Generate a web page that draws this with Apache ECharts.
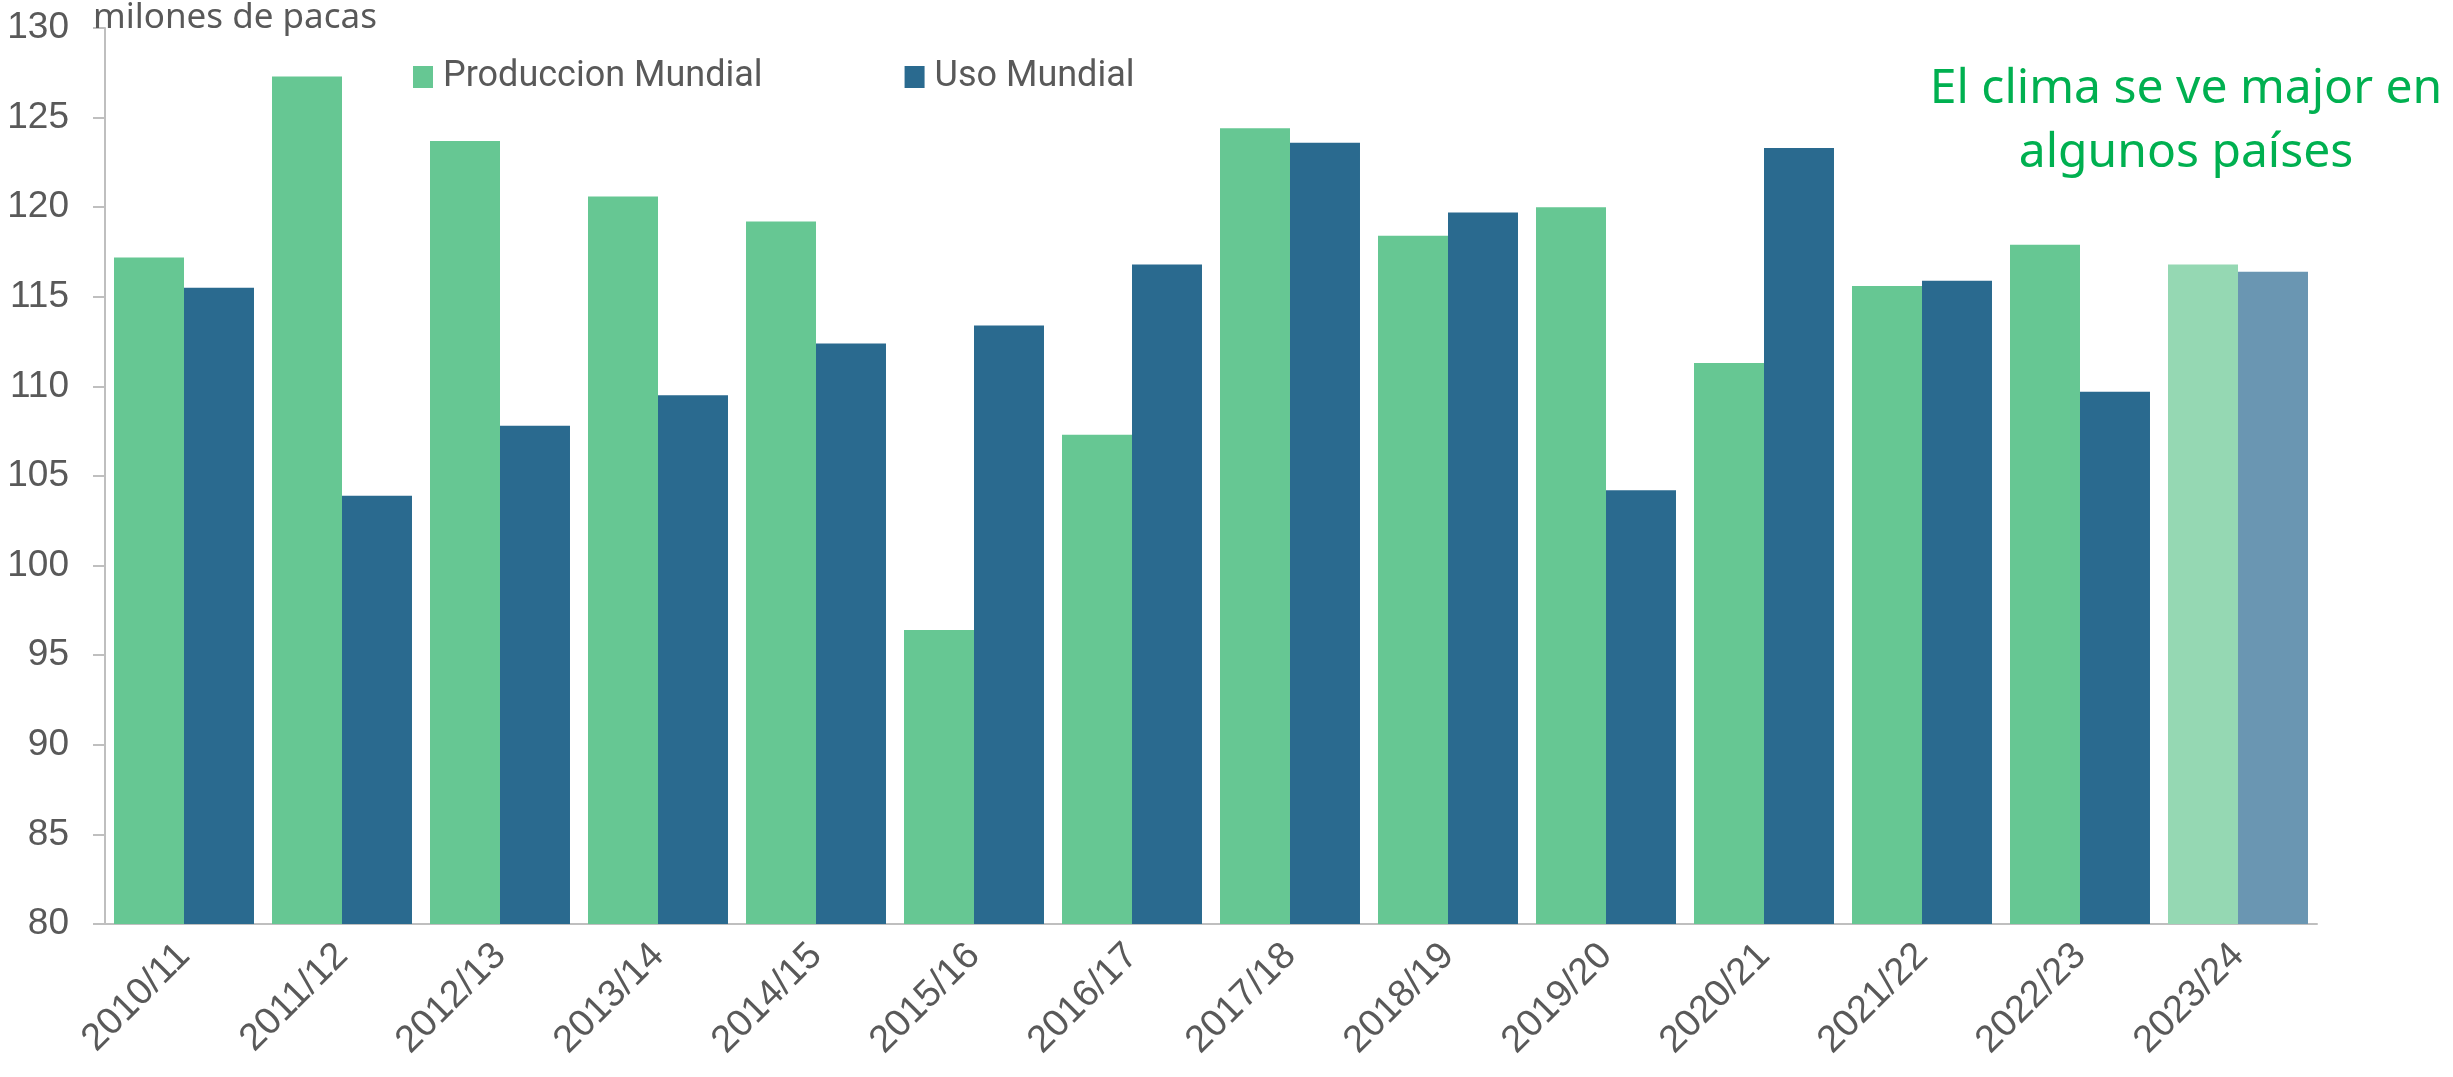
<!DOCTYPE html>
<html>
<head>
<meta charset="utf-8">
<title>Produccion y uso mundial</title>
<script src="https://cdn.jsdelivr.net/npm/echarts@6/dist/echarts.min.js"></script>
<style>
  html, body { margin: 0; padding: 0; background: #ffffff; }
  #chart { width: 2453px; height: 1077px; }
</style>
</head>
<body>
<div id="chart"></div>
<script>
// categorias (temporadas)
var categories = ["2010/11", "2011/12", "2012/13", "2013/14", "2014/15", "2015/16", "2016/17",
  "2017/18", "2018/19", "2019/20", "2020/21", "2021/22", "2022/23", "2023/24"];
// millones de pacas
var produccion = [117.2, 127.3, 123.7, 120.6, 119.2, 96.4, 107.3, 124.4, 118.4, 120.0, 111.3, 115.6, 117.9, 116.8];
var uso = [115.5, 103.9, 107.8, 109.5, 112.4, 113.4, 116.8, 123.6, 119.7, 104.2, 123.3, 115.9, 109.7, 116.4];

var verde = "#66c793";
var azul = "#2a6a8f";
var verdeClaro = "#95d8b3"; // ultima temporada (estimado)
var azulClaro = "#6a96b2";

var textColor = "#595959";
var axisColor = "#bfbfbf";

// la ultima barra va mas clara
function conUltimoClaro(values, color) {
  return values.map(function (v, i) {
    if (i === values.length - 1) {
      return { value: v, itemStyle: { color: color } };
    }
    return v;
  });
}

var chart = echarts.init(document.getElementById("chart"));
var option = {
  animation: false,
  title: {
    text: "milones de pacas",
    left: 88,
    top: -4,
    textStyle: {
      color: textColor,
      fontSize: 35,
      fontWeight: "normal",
      fontFamily: "Noto Sans"
    }
  },
  legend: {
    left: 408,
    top: 54,
    itemWidth: 20,
    itemHeight: 22,
    itemGap: 142,
    icon: "rect",
    textStyle: {
      color: textColor,
      fontSize: 36,
      fontFamily: "Roboto",
      padding: [0, 0, 0, 5]
    },
    data: ["Produccion Mundial", "Uso Mundial"]
  },
  graphic: [{
    type: "text",
    x: 2186,
    y: 57,
    style: {
      text: "El clima se ve major en\nalgunos países",
      align: "center",
      verticalAlign: "top",
      fill: "#00b050",
      fontSize: 48,
      lineHeight: 64,
      fontFamily: "Noto Sans"
    }
  }],
  grid: {
    left: 105,
    right: 136,
    top: 28,
    bottom: 153,
    containLabel: false
  },
  xAxis: {
    type: "category",
    data: categories,
    axisLine: { lineStyle: { color: axisColor, width: 2 } },
    axisTick: { length: 13, lineStyle: { color: axisColor, width: 2 } },
    axisLabel: {
      rotate: 45,
      margin: 26,
      interval: 0,
      color: textColor,
      fontSize: 38,
      fontFamily: "Liberation Sans"
    }
  },
  yAxis: {
    type: "value",
    min: 80,
    max: 130,
    interval: 5,
    splitLine: { show: false },
    axisLine: { show: true, lineStyle: { color: axisColor, width: 2 } },
    axisTick: { show: true, length: 12, lineStyle: { color: axisColor, width: 2 } },
    axisLabel: {
      margin: 36,
      color: textColor,
      fontSize: 37,
      fontFamily: "Liberation Sans"
    }
  },
  series: [
    {
      name: "Produccion Mundial",
      type: "bar",
      barGap: "0%",
      barCategoryGap: "11.4%",
      itemStyle: { color: verde },
      data: conUltimoClaro(produccion, verdeClaro)
    },
    {
      name: "Uso Mundial",
      type: "bar",
      barGap: "0%",
      barCategoryGap: "11.4%",
      itemStyle: { color: azul },
      data: conUltimoClaro(uso, azulClaro)
    }
  ]
};
chart.setOption(option);
</script>
</body>
</html>
